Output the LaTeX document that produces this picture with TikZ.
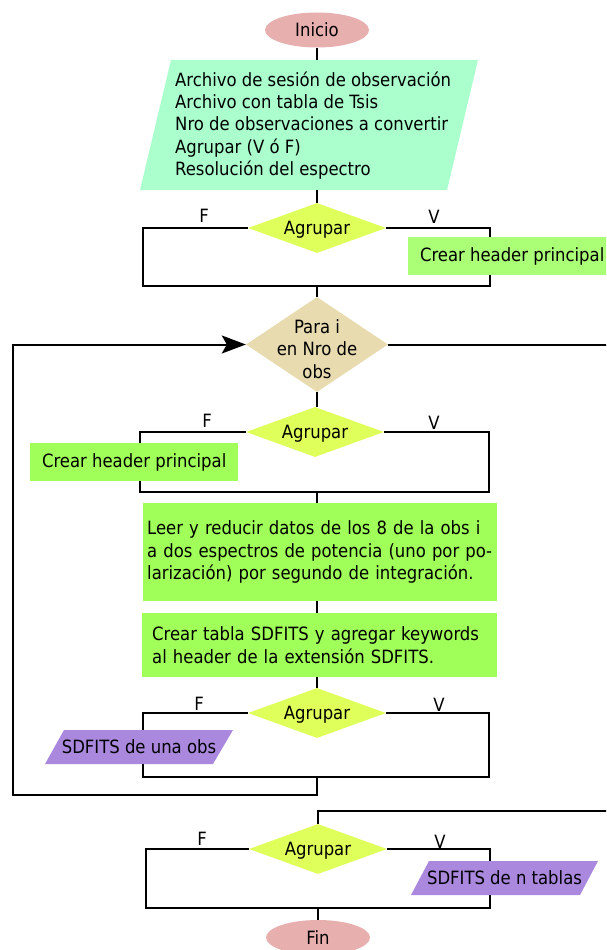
\documentclass[tikz,border=0pt]{standalone}
\usepackage{fontspec}
\setmainfont{DejaVu Sans Condensed}
\usetikzlibrary{shapes.geometric,arrows.meta,calc}
\definecolor{pinkc}{HTML}{E8AFAF}
\definecolor{mint}{HTML}{AAFFCC}
\definecolor{yel}{HTML}{DFFF5A}
\definecolor{tanc}{HTML}{E8DBAF}
\definecolor{grnA}{HTML}{AAFF77}
\definecolor{grnB}{HTML}{A0FF58}
\definecolor{purp}{HTML}{AA88DD}
\begin{document}
\begin{tikzpicture}[x=1pt,y=-1pt,
  font=\fontsize{18.3}{22.3}\selectfont,
  conn/.style={draw=black, line width=2pt},
  term/.style={ellipse, fill=pinkc, minimum width=104pt, minimum height=35pt, inner sep=0pt},
  cond/.style={diamond, fill=yel, aspect=2.76, minimum width=138pt, minimum height=50pt, inner sep=0pt, text depth=0pt},
  proc/.style={rectangle, anchor=north west, align=left, inner sep=0pt},
  lbl/.style={inner sep=0pt}]
\useasboundingbox (0,0) rectangle (606,950);
\clip (0,0) rectangle (606,950);

% start
\node[term] (ini) at (317,30) {Inicio};

% input parallelogram
\fill[mint] (171,60) -- (478,60) -- (447,190) -- (140,190) -- cycle;
\node[inner sep=0pt, minimum width=338pt, minimum height=130pt] (inp) at (309,125) {};
\node[anchor=west, align=left, inner sep=0pt] (inptxt) at (175,125.5)
  {Archivo de sesión de observación\\Archivo con tabla de Tsis\\Nro de observaciones a convertir\\Agrupar (V ó F)\\Resolución del espectro};

% first decision
\node[cond] (d1) at (317,228) {Agrupar};
\node[proc, fill=grnA, minimum width=208pt, minimum height=38pt] (h1) at (408,237) {Crear header principal};
\node[lbl] (lf1) at (204,216) {F};
\node[lbl] (lv1) at (434,217) {V};

% loop diamond
\node[diamond, fill=tanc, aspect=1.48, minimum width=142pt, minimum height=95pt, inner sep=0pt] (para) at (317,344.5) {};
\node[align=center, inner sep=0pt] (paratxt) at (317,349) {Para i\\en Nro de\\obs};

% second decision
\node[cond] (d2) at (315,432) {Agrupar};
\node[proc, fill=grnB, minimum width=208pt, minimum height=38pt] (h2) at (30,443) {Crear header principal};
\node[lbl] (lf2) at (207,421) {F};
\node[lbl] (lv2) at (434,423) {V};

% processes
\node[proc, fill=grnB, minimum width=354pt, minimum height=98pt, inner xsep=4pt, text width=346pt] (leer) at (143,503)
  {Leer y reducir datos de los 8 de la obs i\\a dos espectros de potencia (uno por po-\\larización) por segundo de integración.};
\node[proc, fill=grnB, minimum width=355pt, minimum height=64pt, inner xsep=10pt, text width=335pt] (tabla) at (142,613)
  {Crear tabla SDFITS y agregar keywords\\al header de la extensión SDFITS.};

% third decision
\node[cond] (d3) at (317,713) {Agrupar};
\fill[purp] (64,730) -- (233,730) -- (213,764) -- (45,764) -- cycle;
\node[inner sep=0pt, minimum width=188pt, minimum height=34pt] (p1) at (139,747) {SDFITS de una obs};
\node[lbl] (lf3) at (199,704) {F};
\node[lbl] (lv3) at (439,705) {V};

% fourth decision
\node[cond] (d4) at (318,849) {Agrupar};
\fill[purp] (429,861) -- (598,861) -- (580,895) -- (411,895) -- cycle;
\node[inner sep=0pt, minimum width=187pt, minimum height=34pt] (p2) at (504.5,878) {SDFITS de n tablas};
\node[lbl] (lf4) at (202,839) {F};
\node[lbl] (lv4) at (440,842) {V};

% end
\node[term] (fin) at (318,937.5) {Fin};

% coordinates
\coordinate (f1) at (143,286);
\coordinate (m1) at (317,286);
\coordinate (v1) at (490,286);
\coordinate (exR) at (612,344.5);
\coordinate (f2) at (140,492);
\coordinate (m2) at (317,492);
\coordinate (v2) at (489,492);
\coordinate (f3) at (143,777);
\coordinate (m3) at (317,777);
\coordinate (v3) at (489,777);
\coordinate (lb) at (317,795);
\coordinate (ll) at (13,795);
\coordinate (enR) at (612,811);
\coordinate (f4) at (146,908);
\coordinate (m4) at (318,908);
\coordinate (v4) at (490,908);

% connectors
\draw[conn] (ini) -- (ini |- inp.north);
\draw[conn] (inp.south -| d1.north) -- (d1.north);
\draw[conn] (d1.west) -| (f1) -- (v1) -- (v1 |- h1.south);
\draw[conn] (d1.east) -| (v1 |- h1.north);
\draw[conn] (m1) -- (para.north);
\draw[conn] (para.east) -- (exR);
\draw[conn] (para.south) -- (para.south |- d2.north);
\draw[conn] (d2.west) -| (f2 |- h2.north);
\draw[conn] (f2 |- h2.south) -- (f2) -- (v2) |- (d2.east);
\draw[conn] (m2) -- (m2 |- leer.north);
\draw[conn] (m2 |- leer.south) -- (m2 |- tabla.north);
\draw[conn] (m2 |- tabla.south) -- (d3.north);
\draw[conn] (d3.west) -| (f3 |- p1.north);
\draw[conn] (f3 |- p1.south) -- (f3) -- (v3) |- (d3.east);
\draw[conn, -{Stealth[length=24pt,width=18pt,inset=5pt]}] (m3) -- (lb) -- (ll) |- (para.west);
\draw[conn] (enR) -| (d4.north);
\draw[conn] (d4.west) -| (f4) -- (v4) -- (v4 |- p2.south);
\draw[conn] (d4.east) -| (v4 |- p2.north);
\draw[conn] (m4) -- (fin.north);
\end{tikzpicture}
\end{document}
